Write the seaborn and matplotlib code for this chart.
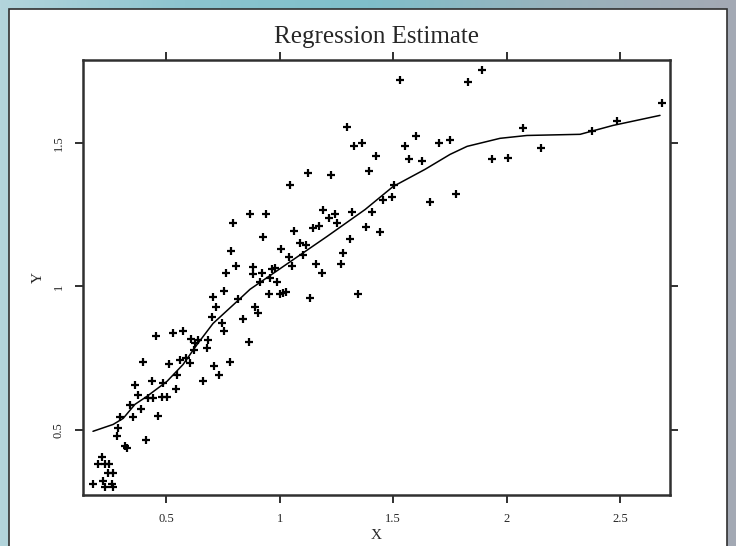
import matplotlib
matplotlib.use("Agg")
import matplotlib.pyplot as plt
import numpy as np
import seaborn as sns
from matplotlib.colors import LinearSegmentedColormap
from matplotlib.patches import Rectangle

# scattered observations
x_obs = [0.720, 0.892, 0.905, 0.703, 0.839, 0.747, 0.756, 0.456, 0.531, 0.575,
         0.610, 0.641, 0.685, 0.628, 0.681, 0.623, 0.866, 0.399, 0.513, 0.562,
         0.588, 0.606, 0.711, 0.782, 0.548, 0.733, 0.438, 0.487, 0.663, 0.363,
         0.544, 0.377, 0.421, 0.443, 0.482, 0.504, 0.341, 0.390, 0.355, 0.465,
         0.297, 0.289, 0.284, 0.412, 0.319, 0.328, 0.218, 0.200, 0.231, 0.249,
         0.244, 0.267, 0.178, 0.222, 0.231, 0.262, 0.267,
         1.297, 1.328, 1.363, 1.425, 1.394, 1.553, 1.601, 1.703, 1.751, 1.570,
         1.628, 1.936, 1.663, 1.778, 1.126, 1.227, 1.046, 0.941, 0.870, 0.927,
         1.192, 1.244, 1.218, 1.253, 1.319, 1.407, 1.504, 1.496, 1.456, 1.381,
         1.443, 1.311, 1.148, 1.174, 1.064, 1.007, 1.090, 1.117, 1.104, 1.042,
         1.055, 1.161, 1.187, 1.280, 1.271, 0.883, 0.883, 0.923, 0.967, 0.980,
         0.914, 0.958, 0.989, 0.954, 1.002, 1.015, 1.029, 1.134, 1.346,
         1.892, 2.073, 2.007, 2.152, 2.377, 2.487, 2.685, 1.531, 1.830,
         0.795, 0.786, 0.764, 0.807, 0.707, 0.755, 0.817]
y_obs = [0.927, 0.927, 0.906, 0.892, 0.885, 0.871, 0.843, 0.826, 0.836, 0.843,
         0.815, 0.812, 0.812, 0.801, 0.784, 0.777, 0.805, 0.735, 0.728, 0.742,
         0.749, 0.732, 0.721, 0.735, 0.690, 0.690, 0.669, 0.662, 0.669, 0.655,
         0.641, 0.620, 0.610, 0.610, 0.613, 0.613, 0.585, 0.571, 0.544, 0.547,
         0.544, 0.505, 0.477, 0.463, 0.443, 0.436, 0.404, 0.380, 0.380, 0.380,
         0.348, 0.348, 0.310, 0.321, 0.300, 0.310, 0.300,
         1.557, 1.491, 1.498, 1.456, 1.401, 1.491, 1.523, 1.498, 1.509, 1.443,
         1.436, 1.443, 1.293, 1.321, 1.394, 1.387, 1.355, 1.251, 1.251, 1.171,
         1.265, 1.251, 1.237, 1.220, 1.258, 1.258, 1.352, 1.310, 1.300, 1.206,
         1.188, 1.164, 1.202, 1.209, 1.192, 1.129, 1.150, 1.143, 1.111, 1.101,
         1.070, 1.077, 1.045, 1.115, 1.077, 1.066, 1.042, 1.045, 1.059, 1.063,
         1.017, 1.028, 1.017, 0.972, 0.972, 0.976, 0.979, 0.958, 0.972,
         1.753, 1.551, 1.449, 1.481, 1.540, 1.578, 1.638, 1.721, 1.714,
         1.220, 1.122, 1.045, 1.070, 0.962, 0.985, 0.955]

# fitted regression curve
x_fit = [0.178, 0.267, 0.311, 0.363, 0.416, 0.504, 0.575, 0.637, 0.707, 0.813,
         0.870, 1.209, 1.377, 1.500, 1.641, 1.751, 1.826, 1.971, 2.090, 2.324,
         2.469, 2.676]
y_fit = [0.495, 0.519, 0.540, 0.589, 0.617, 0.669, 0.728, 0.798, 0.871, 0.948,
         0.990, 1.174, 1.268, 1.348, 1.408, 1.460, 1.488, 1.516, 1.526, 1.530,
         1.561, 1.596]

x_ticks = [0.5, 1, 1.5, 2, 2.5]
y_ticks = [0.5, 1, 1.5]

sns.set_style("ticks")
plt.rcParams["font.family"] = ["Liberation Serif", "DejaVu Serif"]

fig = plt.figure(figsize=(7.36, 5.46), dpi=100)

# blue frame around the white page
bg = fig.add_axes([0, 0, 1, 1], zorder=-2)
frame_cmap = LinearSegmentedColormap.from_list(
    "frame", ["#b3d5dc", "#8cc4cf", "#7fbfca", "#98b3bd", "#a4a9b4"])
bg.imshow(np.linspace(0, 1, 256)[None, :], cmap=frame_cmap, aspect="auto",
          extent=[0, 1, 0, 1])
bg.add_patch(Rectangle((9 / 736, -0.01), 718 / 736, 1.01 - 9 / 546,
                       facecolor="white", edgecolor="#303030", lw=1.2))
bg.set_xlim(0, 1)
bg.set_ylim(0, 1)
bg.axis("off")

ax = fig.add_axes([83 / 736, 1 - 495 / 546, 587 / 736, 435 / 546])
ax.set_facecolor("white")

sns.lineplot(x=x_fit, y=y_fit, color="black", lw=1.1, estimator=None, ax=ax)
sns.scatterplot(x=x_obs, y=y_obs, marker="+", color="black", s=40,
                linewidth=1.6, ax=ax)

ax.set_xlim(0.134, 2.72)
ax.set_ylim(0.273, 1.789)
ax.set_xticks(x_ticks)
ax.set_xticklabels(["0.5", "1", "1.5", "2", "2.5"], fontsize=9)
ax.set_yticks(y_ticks)
ax.set_yticklabels(["0.5", "1", "1.5"], fontsize=9, rotation=90, va="center")
ax.tick_params(direction="out", length=6, width=1.3, top=True, right=True,
               labeltop=False, labelright=False, color="#202020", pad=7)
for side in ax.spines.values():
    side.set_linewidth(1.8)
    side.set_color("#303030")

ax.set_xlabel("X", fontsize=11, labelpad=3)
ax.set_ylabel("Y", fontsize=11, labelpad=6)
fig.text(0.512, 0.932, "Regression Estimate", ha="center", va="center",
         fontsize=18)

fig.savefig("out.png", dpi=100)
